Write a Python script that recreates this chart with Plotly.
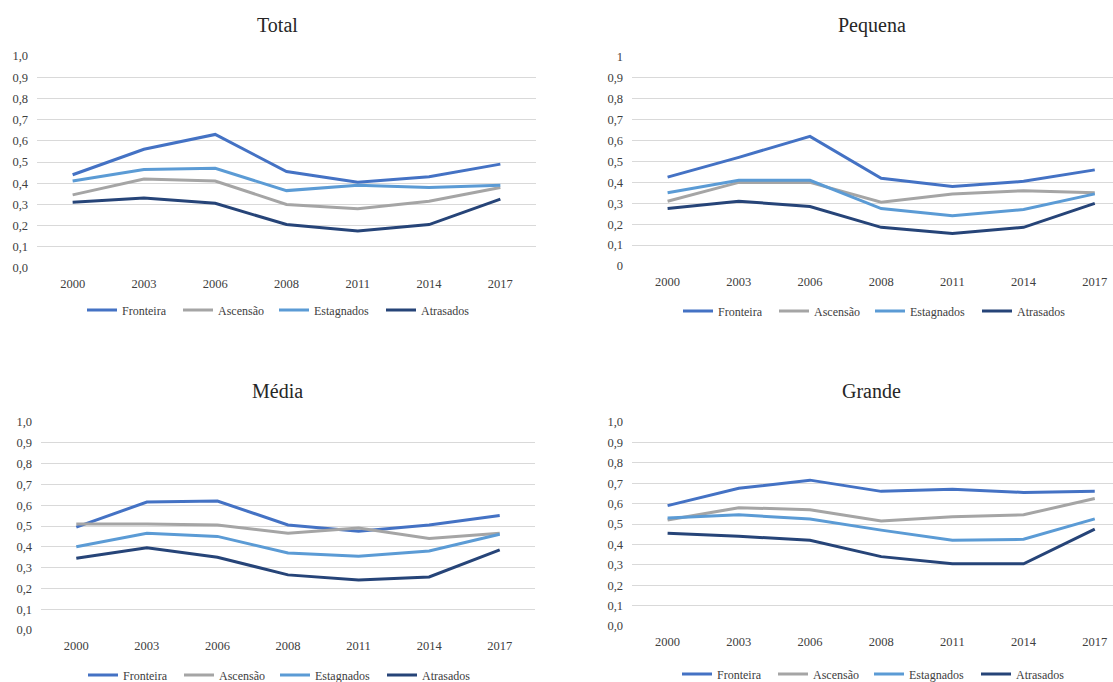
import plotly.graph_objects as go

# Survey years (category axis)
years = ["2000", "2003", "2006", "2008", "2011", "2014", "2017"]

# Group names and colours
groups = ["Fronteira", "Ascensão", "Estagnados", "Atrasados"]
colors = ["#4472C4", "#A5A5A5", "#5B9BD5", "#264478"]
# Width reserved for each legend label (px)
legend_widths = [51, 51, 62, 50]

# Panel: Total
total_fronteira = [0.44, 0.56, 0.63, 0.455, 0.405, 0.43, 0.49]
total_ascensao = [0.345, 0.42, 0.41, 0.30, 0.28, 0.315, 0.38]
total_estagnados = [0.41, 0.465, 0.47, 0.365, 0.39, 0.38, 0.39]
total_atrasados = [0.31, 0.33, 0.305, 0.205, 0.175, 0.205, 0.325]

# Panel: Pequena
pequena_fronteira = [0.425, 0.52, 0.62, 0.42, 0.38, 0.405, 0.46]
pequena_ascensao = [0.31, 0.40, 0.40, 0.305, 0.345, 0.36, 0.35]
pequena_estagnados = [0.35, 0.41, 0.41, 0.275, 0.24, 0.27, 0.345]
pequena_atrasados = [0.275, 0.31, 0.285, 0.185, 0.155, 0.185, 0.30]

# Panel: Média
media_fronteira = [0.495, 0.615, 0.62, 0.505, 0.475, 0.505, 0.55]
media_ascensao = [0.51, 0.51, 0.505, 0.465, 0.49, 0.44, 0.465]
media_estagnados = [0.40, 0.465, 0.45, 0.37, 0.355, 0.38, 0.46]
media_atrasados = [0.345, 0.395, 0.35, 0.265, 0.24, 0.255, 0.385]

# Panel: Grande
grande_fronteira = [0.59, 0.675, 0.715, 0.66, 0.67, 0.655, 0.66]
grande_ascensao = [0.52, 0.58, 0.57, 0.515, 0.535, 0.545, 0.625]
grande_estagnados = [0.53, 0.545, 0.525, 0.47, 0.42, 0.425, 0.525]
grande_atrasados = [0.455, 0.44, 0.42, 0.34, 0.305, 0.305, 0.475]

# Y tick values and labels
ytick_vals = [0, 0.1, 0.2, 0.3, 0.4, 0.5, 0.6, 0.7, 0.8, 0.9, 1.0]
ytick_text_dec = ["0,0", "0,1", "0,2", "0,3", "0,4", "0,5", "0,6", "0,7", "0,8", "0,9", "1,0"]
ytick_text_int = ["0", "0,1", "0,2", "0,3", "0,4", "0,5", "0,6", "0,7", "0,8", "0,9", "1"]

panels = [
    ("Total", [total_fronteira, total_ascensao, total_estagnados, total_atrasados], ytick_text_dec),
    ("Pequena", [pequena_fronteira, pequena_ascensao, pequena_estagnados, pequena_atrasados], ytick_text_int),
    ("Média", [media_fronteira, media_ascensao, media_estagnados, media_atrasados], ytick_text_dec),
    ("Grande", [grande_fronteira, grande_ascensao, grande_estagnados, grande_atrasados], ytick_text_dec),
]

W, H = 1113, 682
FONT = "Liberation Serif"
TICK_COLOR = "#404040"
GRID = "#D9D9D9"


def px_x(v):
    return v / W


def py_y(v):
    return 1 - v / H


# Plot-area boxes in pixels: (left, right, top, bottom, x range right end)
boxes = [
    (37, 536, 56, 268, 6.5),
    (632, 1113, 57, 266, 6.256),
    (41, 535, 422, 630, 6.5),
    (632, 1113, 422, 626, 6.256),
]
title_pos = [(277, 25), (872, 26), (277, 391), (871, 391)]
legend_pos = [(279, 310), (875, 311), (280, 675), (874, 674)]

fig = go.Figure()
layout = dict(
    width=W,
    height=H,
    margin=dict(l=0, r=0, t=0, b=0, autoexpand=False),
    paper_bgcolor="white",
    plot_bgcolor="white",
    font=dict(family=FONT, size=12, color=TICK_COLOR),
    annotations=[],
)

for i, (name, series, ytext) in enumerate(panels):
    n = "" if i == 0 else str(i + 1)
    xa, ya = "x" + n, "y" + n
    lg = "legend" + n
    for g, c, lw, vals in zip(groups, colors, legend_widths, series):
        fig.add_trace(go.Scatter(
            x=years, y=vals, name=g, mode="lines",
            line=dict(color=c, width=3),
            xaxis=xa, yaxis=ya, legend=lg,
            legendwidth=lw,
            showlegend=True,
        ))
    left, right, top, bottom, xr = boxes[i]
    layout["xaxis" + n] = dict(
        domain=[px_x(left), px_x(right)],
        anchor=ya,
        type="category",
        range=[-0.5, xr],
        showgrid=False, zeroline=False, showline=False,
        ticks="",
        tickfont=dict(family=FONT, size=12.5, color=TICK_COLOR),
        ticklabelstandoff=6,
    )
    layout["yaxis" + n] = dict(
        domain=[py_y(bottom), py_y(top)],
        anchor=xa,
        range=[0, 1.0],
        tickvals=ytick_vals,
        ticktext=ytext,
        showgrid=True, gridcolor=GRID, gridwidth=1,
        zeroline=False, showline=False,
        ticks="",
        tickfont=dict(family=FONT, size=12.5, color=TICK_COLOR),
        ticklabelstandoff=8,
    )
    lx, ly = legend_pos[i]
    layout[lg] = dict(
        orientation="h",
        x=px_x(lx), y=py_y(ly),
        xanchor="center", yanchor="middle",
        xref="paper", yref="paper",
        font=dict(family=FONT, size=12, color=TICK_COLOR),
        itemwidth=30,
        bgcolor="rgba(0,0,0,0)",
        traceorder="normal",
    )
    tx, ty = title_pos[i]
    layout["annotations"].append(dict(
        text=name, x=px_x(tx), y=py_y(ty),
        xref="paper", yref="paper",
        xanchor="center", yanchor="middle",
        showarrow=False,
        font=dict(family=FONT, size=20, color="#262626"),
    ))

fig.update_layout(**layout)
fig.write_html("out.html")
